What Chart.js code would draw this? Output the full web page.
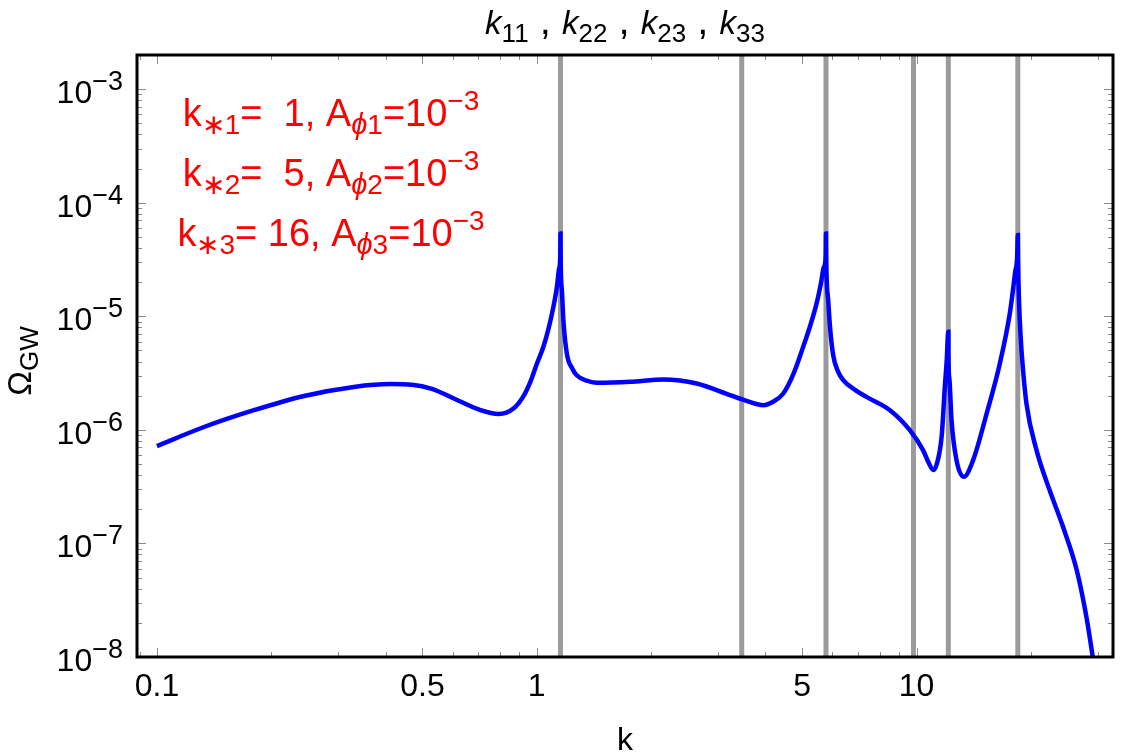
<!DOCTYPE html>
<html>
<head>
<meta charset="utf-8">
<script src="https://cdn.jsdelivr.net/npm/chart.js@4/dist/chart.umd.min.js"></script>
<style>
  html, body { margin: 0; padding: 0; background: #fff; overflow: hidden; }
  #wrap { width: 1125px; height: 755px; }
</style>
</head>
<body>
<div id="wrap"><canvas id="canvas" width="1125" height="755"></canvas></div>
<script>
// curve
var kValues = [
  0.1, 0.133, 0.18, 0.244, 0.33, 0.412, 0.47, 0.53, 0.605, 0.711, 0.794, 0.87, 0.92, 0.962,
  1.0, 1.041, 1.075, 1.106, 1.13, 1.145, 1.153, 1.1547, 1.1557, 1.165, 1.175, 1.2, 1.24, 1.274,
  1.35, 1.438, 1.761, 2.154, 2.637, 3.227, 3.6, 3.948, 4.2, 4.457, 4.75, 5.03, 5.25, 5.455,
  5.6, 5.7, 5.765, 5.7735, 5.78, 5.85, 5.92, 6.03, 6.2, 6.41, 6.9, 7.38, 8.51, 9.6, 10.4, 10.8,
  11.06, 11.3, 11.64, 11.87, 12.0, 12.1244, 12.13, 12.2, 12.36, 12.74, 13.32, 14.09, 15.3,
  16.57, 17.6, 18.2, 18.4, 18.475, 18.5, 18.62, 18.8, 19.0, 19.47, 20.7, 22.4, 24.3, 26.4,
  28.0, 29.1, 30.0
];
var omegaValues = [
  7.2e-7, 1.06e-6, 1.49e-6, 1.99e-6, 2.39e-6, 2.53e-6, 2.5e-6, 2.3e-6, 1.89e-6, 1.49e-6, 1.38e-6, 1.55e-6, 1.95e-6, 2.65e-6,
  3.8e-6, 5.4e-6, 7.9e-6, 1.21e-5, 1.82e-5, 2.63e-5, 3.31e-5, 5.37e-5, 3.31e-5, 1.66e-5, 9.3e-6, 4.7e-6, 3.47e-6, 3.03e-6,
  2.72e-6, 2.6e-6, 2.65e-6, 2.78e-6, 2.56e-6, 2.02e-6, 1.78e-6, 1.65e-6, 1.78e-6, 2.09e-6, 3.16e-6, 5.4e-6, 8.3e-6, 1.3e-5,
  1.95e-5, 2.7e-5, 3.4e-5, 5.37e-5, 3.31e-5, 1.41e-5, 7.9e-6, 4.57e-6, 3.31e-6, 2.74e-6, 2.24e-6, 1.95e-6, 1.49e-6, 9.95e-7, 6.64e-7, 5.0e-7,
  4.43e-7, 5.0e-7, 8.7e-7, 2.4e-6, 3.98e-6, 7.31e-6, 4.47e-6, 2.82e-6, 1.22e-6, 5.42e-7, 3.86e-7, 5.42e-7, 1.4e-6,
  3.85e-6, 1.06e-5, 2.51e-5, 3.31e-5, 5.19e-5, 3.2e-5, 1.3e-5, 6.5e-6, 3.9e-6, 1.7e-6, 6.6e-7, 2.95e-7, 1.4e-7, 5.83e-8,
  2.26e-8, 1.0e-8, 5.0e-9
];

// grey vertical lines k11, k22, k23, k33 ...
var resonanceK = [1.1547, 3.4641, 5.7735, 9.815, 12.1244, 18.4752];

var xMin = 0.0886, xMax = 32.9;
var yMin = 1e-8, yMax = 2e-3;

var xMajorTicks = [0.1, 0.5, 1, 5, 10];
var xTickLabels = ["0.1", "0.5", "1", "5", "10"];
var xMinorTicks = [0.09, 0.2, 0.3, 0.4, 0.6, 0.7, 0.8, 0.9, 2, 3, 4, 6, 7, 8, 9, 20, 30];
var yExponents = [-8, -7, -6, -5, -4, -3];
var yMinorMultipliers = [2, 3, 4, 5, 6, 7, 8, 9];

var FONT = '"Liberation Sans", Arial, Helvetica, sans-serif';

function partFont(p) {
  return (p.italic ? "italic " : "") + p.s + "px " + FONT;
}

function richWidth(ctx, parts) {
  var w = 0;
  for (var i = 0; i < parts.length; i++) {
    ctx.font = partFont(parts[i]);
    w += ctx.measureText(parts[i].t).width;
  }
  return w;
}

function drawRich(ctx, parts, x, y, align) {
  var w = richWidth(ctx, parts);
  var cx = x;
  if (align === "center") cx = x - w / 2;
  if (align === "right") cx = x - w;
  ctx.textAlign = "left";
  ctx.textBaseline = "alphabetic";
  for (var i = 0; i < parts.length; i++) {
    var p = parts[i];
    ctx.font = partFont(p);
    ctx.fillText(p.t, cx, y + (p.dy || 0));
    cx += ctx.measureText(p.t).width;
  }
}

function tickLine(ctx, x1, y1, x2, y2) {
  ctx.beginPath();
  ctx.moveTo(x1, y1);
  ctx.lineTo(x2, y2);
  ctx.stroke();
}

var framePlugin = {
  id: "frameAndText",
  afterDatasetsDraw: function(chart) {
    var ctx = chart.ctx, a = chart.chartArea;
    var xs = chart.scales.x, ys = chart.scales.y;
    ctx.save();

    // frame ticks, all four sides, pointing inward
    ctx.strokeStyle = "#8a8a8a";
    ctx.lineWidth = 1;
    xMajorTicks.forEach(function(v) {
      var px = Math.round(xs.getPixelForValue(v)) + 0.5;
      tickLine(ctx, px, a.bottom, px, a.bottom - 9);
      tickLine(ctx, px, a.top, px, a.top + 9);
    });
    xMinorTicks.forEach(function(v) {
      if (v <= xMin || v >= xMax) return;
      var px = Math.round(xs.getPixelForValue(v)) + 0.5;
      tickLine(ctx, px, a.bottom, px, a.bottom - 5);
      tickLine(ctx, px, a.top, px, a.top + 5);
    });
    yExponents.forEach(function(e) {
      var py = Math.round(ys.getPixelForValue(Math.pow(10, e))) + 0.5;
      tickLine(ctx, a.left, py, a.left + 9, py);
      tickLine(ctx, a.right, py, a.right - 9, py);
      yMinorMultipliers.forEach(function(m) {
        var v = m * Math.pow(10, e);
        if (v >= yMax) return;
        var qy = Math.round(ys.getPixelForValue(v)) + 0.5;
        tickLine(ctx, a.left, qy, a.left + 5, qy);
        tickLine(ctx, a.right, qy, a.right - 5, qy);
      });
    });

    // frame
    ctx.strokeStyle = "#000";
    ctx.lineWidth = 3;
    ctx.strokeRect(a.left, a.top, a.right - a.left, a.bottom - a.top);

    // tick labels
    ctx.fillStyle = "#000";
    xMajorTicks.forEach(function(v, i) {
      drawRich(ctx, [{ t: xTickLabels[i], s: 32 }], xs.getPixelForValue(v), 696, "center");
    });
    yExponents.forEach(function(e) {
      var py = ys.getPixelForValue(Math.pow(10, e));
      drawRich(ctx, [{ t: "10", s: 32 }, { t: "\u2212" + Math.abs(e), s: 27, dy: -13 }], 123, py + 14, "right");
    });

    // axis titles
    drawRich(ctx, [{ t: "k", s: 32 }], (a.left + a.right) / 2, 750, "center");
    ctx.save();
    ctx.translate(31, 361);
    ctx.rotate(-Math.PI / 2);
    drawRich(ctx, [{ t: "\u03a9", s: 33 }, { t: "GW", s: 26, dy: 7 }], 0, 0, "center");
    ctx.restore();

    // title
    var title = [];
    ["11", "22", "23", "33"].forEach(function(sub, i) {
      if (i > 0) title.push({ t: " , ", s: 40 });
      title.push({ t: "k", s: 33, italic: true });
      title.push({ t: sub, s: 26, dy: 8 });
    });
    drawRich(ctx, title, (a.left + a.right) / 2, 34, "center");

    // red annotation
    ctx.fillStyle = "#ff0000";
    var kStars = ["\u00a0\u00a01", "\u00a0\u00a05", " 16"];
    for (var j = 0; j < 3; j++) {
      var n = String(j + 1);
      drawRich(ctx, [
        { t: "k", s: 38 },
        { t: "\u2217" + n, s: 28, dy: 8 },
        { t: "=" + kStars[j] + ", A", s: 38 },
        { t: "\u03d5", s: 29, dy: 8, italic: true },
        { t: n, s: 28, dy: 8 },
        { t: "=10", s: 38 },
        { t: "\u22123", s: 28, dy: -16 }
      ], 331, 126 + j * 60, "center");
    }
    ctx.restore();
  }
};

var datasets = [{
  data: kValues.map(function(k, i) { return { x: k, y: omegaValues[i] }; }),
  borderColor: "#0000ff",
  borderWidth: 4.5,
  pointRadius: 0,
  cubicInterpolationMode: "monotone",
  fill: false,
  order: 0
}];
resonanceK.forEach(function(k) {
  datasets.push({
    data: [{ x: k, y: yMin }, { x: k, y: yMax }],
    borderColor: "#9b9b9b",
    borderWidth: 5,
    pointRadius: 0,
    fill: false,
    order: 1
  });
});

var ctx = document.getElementById("canvas").getContext("2d");
new Chart(ctx, {
  type: "line",
  data: { datasets: datasets },
  options: {
    responsive: false,
    devicePixelRatio: 1,
    animation: false,
    events: [],
    layout: { padding: { top: 55, right: 12, left: 0, bottom: 0 } },
    plugins: { legend: { display: false }, tooltip: { enabled: false }, title: { display: false } },
    scales: {
      x: {
        type: "logarithmic",
        min: xMin, max: xMax,
        ticks: { display: false },
        grid: { display: false },
        border: { display: false },
        afterBuildTicks: function(s) { s.ticks = xMajorTicks.map(function(v) { return { value: v }; }); },
        afterFit: function(s) { s.height = 98; }
      },
      y: {
        type: "logarithmic",
        min: yMin, max: yMax,
        ticks: { display: false },
        grid: { display: false },
        border: { display: false },
        afterBuildTicks: function(s) { s.ticks = yExponents.map(function(e) { return { value: Math.pow(10, e) }; }); },
        afterFit: function(s) { s.width = 137; }
      }
    }
  },
  plugins: [framePlugin]
});
</script>
</body>
</html>
